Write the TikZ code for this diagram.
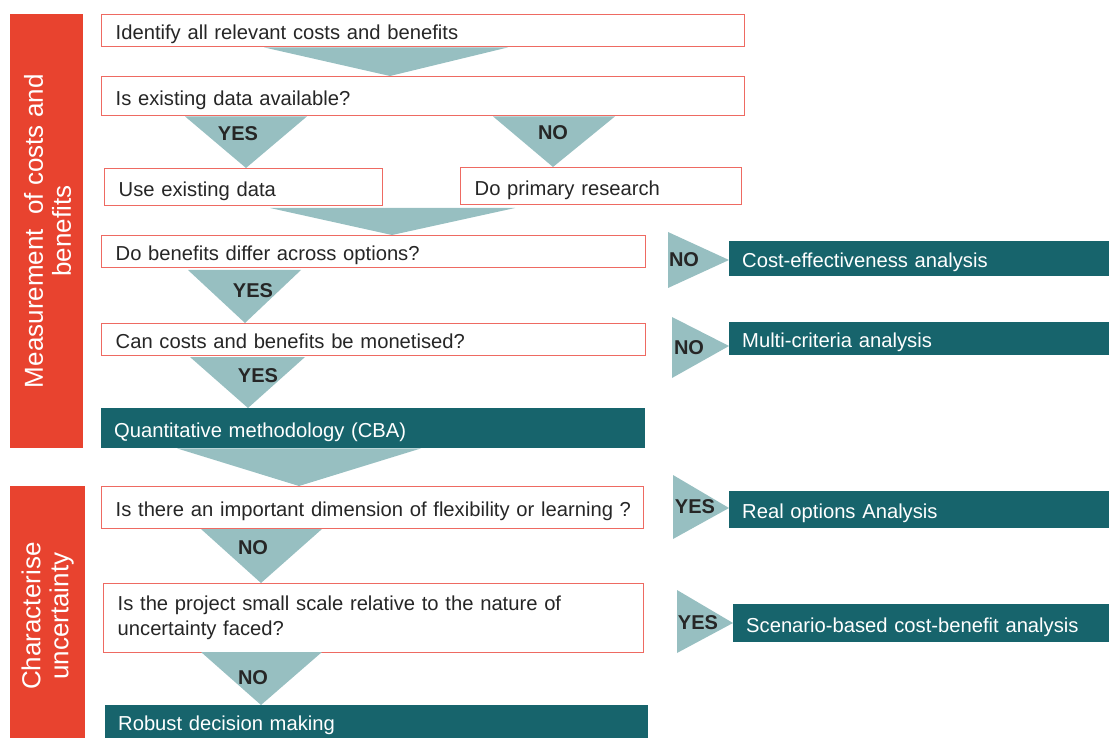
\documentclass[tikz,border=0pt]{standalone}
\usepackage{fontspec}
\setmainfont{Liberation Sans}
\definecolor{barred}{HTML}{E8432F}
\definecolor{boxred}{HTML}{EE6A62}
\definecolor{dteal}{HTML}{17646C}
\definecolor{lteal}{HTML}{97BFC1}
\definecolor{txt}{HTML}{262626}
\newcommand{\bodyfont}{\fontsize{20.2}{25}\selectfont}
\newcommand{\labfont}{\fontsize{20}{24}\selectfont\bfseries}
\newcommand{\barfont}{\fontsize{26}{28}\selectfont}
\tikzset{
  qbox/.style={draw=boxred, line width=1.4pt, fill=white, anchor=north west,
    inner xsep=14pt, inner ysep=0pt, align=left, font=\bodyfont, text=txt},
  tbox/.style={fill=dteal, anchor=north west, inner xsep=13pt, inner ysep=0pt,
    align=left, font=\bodyfont, text=white},
  oneline/.style={text height=22pt, text depth=4pt},
  sidebar/.style={fill=barred, anchor=north west, inner sep=0pt},
  bartext/.style={font=\barfont, text=white, align=center, rotate=90},
  tri/.style={fill=lteal},
  lab/.style={font=\labfont, text=black!85, inner sep=0pt}
}
\begin{document}
\begin{tikzpicture}[x=1pt,y=-1pt]
\useasboundingbox (0,0) rectangle (1109,738);
% side bars
\node[sidebar, minimum width=73pt, minimum height=434pt] (s1) at (10,14) {};
\node[bartext] (s1t) at ([xshift=1pt]s1.center) {Measurement\ \ of costs and\\benefits};
\node[sidebar, minimum width=75pt, minimum height=260pt] (s2) at (10,486) {};
\node[bartext] (s2t) at (s2.center) {Characterise\\uncertainty};
% question boxes
\node[qbox, oneline, text width=615pt, minimum height=32pt] (b1) at (101,14) {Identify all relevant costs and benefits};
\node[qbox, oneline, text width=615pt, minimum height=39pt] (b2) at (101,76) {Is existing data available?};
\node[qbox, oneline, text width=250pt, minimum height=37pt] (b3) at (104,168) {Use existing data};
\node[qbox, oneline, text width=253pt, minimum height=37pt] (b4) at (460,167) {Do primary research};
\node[qbox, oneline, text width=516pt, minimum height=32pt] (b5) at (101,235) {Do benefits differ across options?};
\node[qbox, oneline, text width=516pt, minimum height=32pt] (b6) at (101,323) {Can costs and benefits be monetised?};
\node[tbox, oneline, text width=518pt, minimum height=40pt] (q1) at (101,408) {Quantitative methodology (CBA)};
\node[qbox, oneline, text width=514pt, minimum height=42pt] (b7) at (101,486) {\hbox{Is there an important dimension of flexibility or learning ?}};
\node[qbox, text width=512pt, minimum height=69pt] (b8) at (103,583) {Is the project small scale relative to the nature of\\uncertainty faced?};
\node[tbox, text width=517pt, minimum height=40pt] (q2) at (105,705) {Robust decision making};
% result boxes
\node[tbox, oneline, text width=354pt, minimum height=35pt] (r1) at (729,241) {Cost-effectiveness analysis};
\node[tbox, oneline, text width=354pt, minimum height=33pt] (r2) at (729,322) {Multi-criteria analysis};
\node[tbox, oneline, text width=354pt, minimum height=37pt] (r3) at (729,491) {Real options Analysis};
\node[tbox, oneline, text width=350pt, minimum height=38pt] (r4) at (733,604) {Scenario-based cost-benefit analysis};
% downward triangles
\fill[tri] (264,0 |- b1.south) -- (508,0 |- b1.south) -- (390,0 |- b2.north) -- cycle;
\fill[tri] (185,0 |- b2.south) -- (307,0 |- b2.south) -- (246,0 |- b3.north) -- cycle;
\fill[tri] (493,0 |- b2.south) -- (615,0 |- b2.south) -- (553,0 |- b4.north) -- cycle;
\fill[tri] (270,208) -- (515,208) -- (392,0 |- b5.north) -- cycle;
\fill[tri] (188,270) -- (301,270) -- (245,0 |- b6.north) -- cycle;
\fill[tri] (190,357) -- (305,357) -- (248,0 |- q1.north) -- cycle;
\fill[tri] (177,0 |- q1.south) -- (421,0 |- q1.south) -- (299,0 |- b7.north) -- cycle;
\fill[tri] (201,529) -- (322,529) -- (261,0 |- b8.north) -- cycle;
\fill[tri] (201,652) -- (322,652) -- (261,0 |- q2.north) -- cycle;
% rightward triangles
\fill[tri] (668,232) -- (668,288) -- (r1.west |- 0,260) -- cycle;
\fill[tri] (672,317) -- (672,378) -- (r2.west |- 0,346) -- cycle;
\fill[tri] (673,475) -- (673,539) -- (r3.west |- 0,508) -- cycle;
\fill[tri] (677,590) -- (677,653) -- (r4.west |- 0,623) -- cycle;
% labels
\node[lab] (l1) at (238,134) {YES};
\node[lab] (l2) at (553,133) {NO};
\node[lab] (l3) at (253,291) {YES};
\node[lab] (l4) at (258,376) {YES};
\node[lab] (l5) at (253,548) {NO};
\node[lab] (l6) at (253,678) {NO};
\node[lab] (l7) at (684,260) {NO};
\node[lab] (l8) at (689,348) {NO};
\node[lab] (l9) at (695,507) {YES};
\node[lab] (l10) at (698,623) {YES};
\end{tikzpicture}
\end{document}
